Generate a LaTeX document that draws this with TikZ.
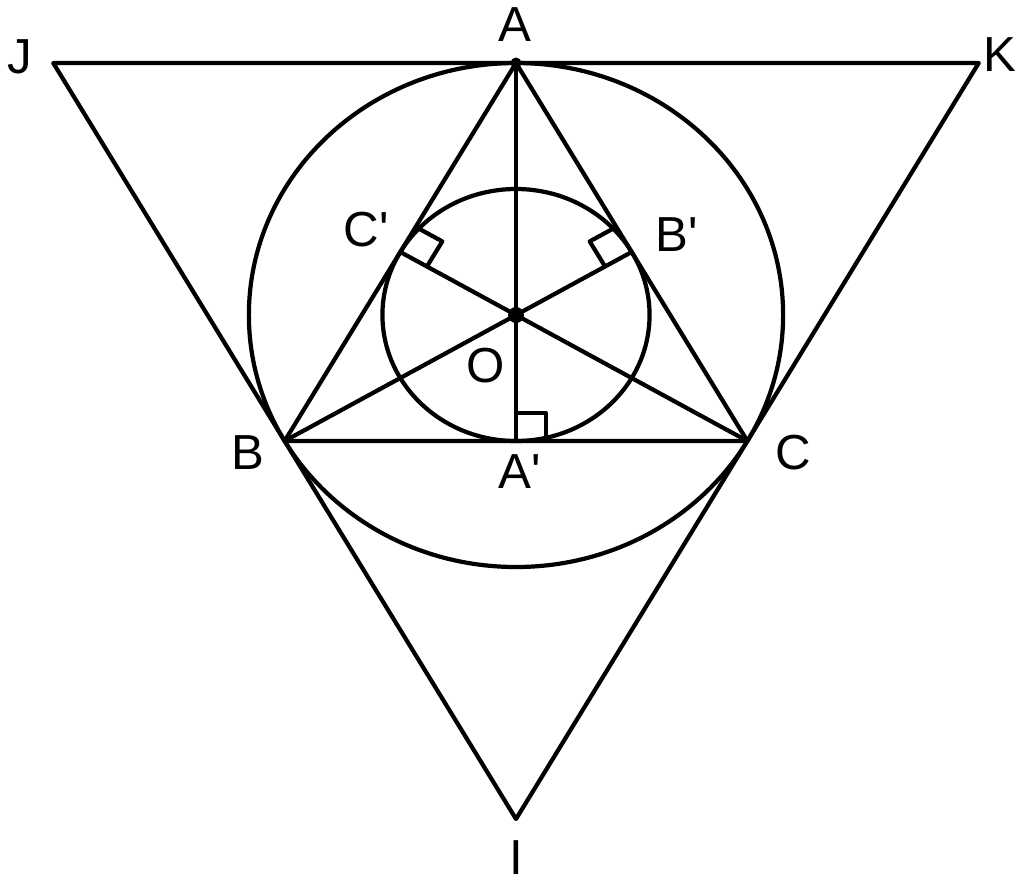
\documentclass[tikz,border=0pt]{standalone}
\usepackage{fontspec}
\newfontfamily\lab{Liberation Sans}
\usetikzlibrary{calc}
\begin{document}
\begin{tikzpicture}[line width=1.2pt, line join=round,
  lbl/.style={font=\lab\fontsize{14}{16}\selectfont, inner sep=0pt}]
\useasboundingbox (0,0) rectangle (10.24,-8.85);
\begin{scope}[shift={(5.16,-3.15)}, xscale=1.06]
  \coordinate (O) at (0,0);
  \coordinate (A) at (0,2.52);
  \coordinate (B) at (-2.1824,-1.26);
  \coordinate (C) at (2.1824,-1.26);
  \coordinate (J) at (-4.3648,2.52);
  \coordinate (K) at (4.3648,2.52);
  \coordinate (I) at (0,-5.04);
  \coordinate (A1) at (0,-1.26);
  \coordinate (B1) at (1.0912,0.63);
  \coordinate (C1) at (-1.0912,0.63);
  % circles
  \draw (O) circle[radius=2.52];
  \draw (O) circle[radius=1.26];
  % triangles
  \draw (J) -- (K) -- (I) -- cycle;
  \draw (A) -- (B) -- (C) -- cycle;
  % cevians
  \draw (A) -- (A1);
  \draw (B) -- (B1);
  \draw (C) -- (C1);
  % right angle marks
  \draw ($(A1)+(0,0.28)$) -- ++(0.28,0) -- ++(0,-0.28);
  \draw ($(C1)+(0.145,0.251)$) -- ++(0.251,-0.145) -- ++(-0.145,-0.251);
  \draw ($(B1)+(-0.145,0.251)$) -- ++(-0.251,-0.145) -- ++(0.145,-0.251);
\end{scope}
\fill (O) circle[radius=0.08];
\fill (A) circle[radius=0.055];
% labels
\node[lbl] (lA) at (5.15,-0.25) {A};
\node[lbl] (lJ) at (0.20,-0.57) {J};
\node[lbl] (lK) at (10.00,-0.55) {K};
\node[lbl] (lC1) at (3.66,-2.30) {C'};
\node[lbl] (lB1) at (6.77,-2.35) {B'};
\node[lbl] (lO) at (4.86,-3.66) {O};
\node[lbl] (lB) at (2.48,-4.53) {B};
\node[lbl] (lA1) at (5.20,-4.72) {A'};
\node[lbl] (lC) at (7.93,-4.53) {C};
\node[lbl] (lI) at (5.16,-8.58) {I};
\end{tikzpicture}
\end{document}
